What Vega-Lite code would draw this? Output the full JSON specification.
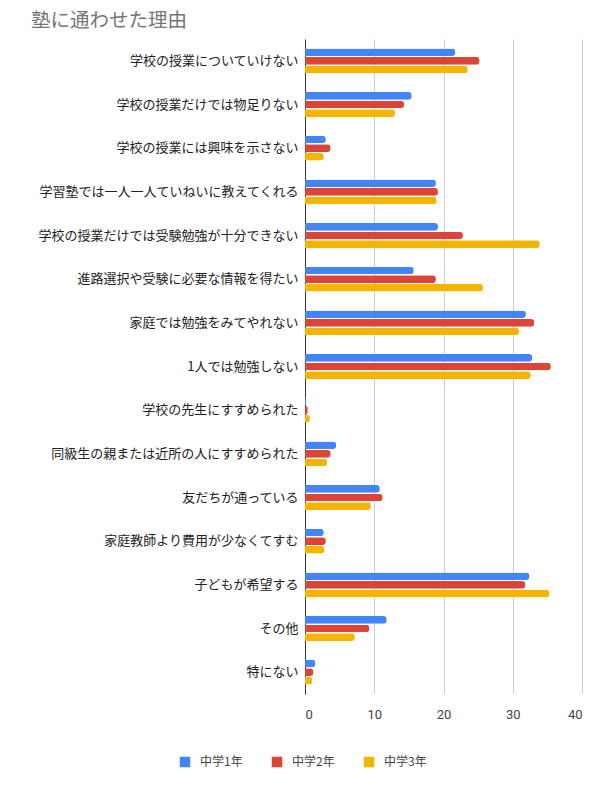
{
  "$schema": "https://vega.github.io/schema/vega-lite/v6.json",
  "autosize": {"type": "none"},
  "width": 277,
  "height": 655,
  "padding": {"left": 305, "top": 39, "right": 18, "bottom": 106},
  "background": "white",
  "config": {"font": "Noto Sans CJK JP", "view": {"stroke": null}},
  "title": {"text": "塾に通わせた理由", "anchor": "start", "frame": "group", "dx": -274, "offset": 8, "fontSize": 19.5, "fontWeight": "normal", "color": "#757575", "font": "Noto Sans CJK JP"},
  "data": {"values": [
    {"reason": "学校の授業についていけない", "grade": "中学1年", "value": 21.7},
    {"reason": "学校の授業についていけない", "grade": "中学2年", "value": 25.2},
    {"reason": "学校の授業についていけない", "grade": "中学3年", "value": 23.5},
    {"reason": "学校の授業だけでは物足りない", "grade": "中学1年", "value": 15.4},
    {"reason": "学校の授業だけでは物足りない", "grade": "中学2年", "value": 14.3},
    {"reason": "学校の授業だけでは物足りない", "grade": "中学3年", "value": 13.0},
    {"reason": "学校の授業には興味を示さない", "grade": "中学1年", "value": 3.0},
    {"reason": "学校の授業には興味を示さない", "grade": "中学2年", "value": 3.7},
    {"reason": "学校の授業には興味を示さない", "grade": "中学3年", "value": 2.7},
    {"reason": "学習塾では一人一人ていねいに教えてくれる", "grade": "中学1年", "value": 18.9},
    {"reason": "学習塾では一人一人ていねいに教えてくれる", "grade": "中学2年", "value": 19.2},
    {"reason": "学習塾では一人一人ていねいに教えてくれる", "grade": "中学3年", "value": 19.0},
    {"reason": "学校の授業だけでは受験勉強が十分できない", "grade": "中学1年", "value": 19.2},
    {"reason": "学校の授業だけでは受験勉強が十分できない", "grade": "中学2年", "value": 22.8},
    {"reason": "学校の授業だけでは受験勉強が十分できない", "grade": "中学3年", "value": 33.9},
    {"reason": "進路選択や受験に必要な情報を得たい", "grade": "中学1年", "value": 15.7},
    {"reason": "進路選択や受験に必要な情報を得たい", "grade": "中学2年", "value": 18.9},
    {"reason": "進路選択や受験に必要な情報を得たい", "grade": "中学3年", "value": 25.7},
    {"reason": "家庭では勉強をみてやれない", "grade": "中学1年", "value": 31.9},
    {"reason": "家庭では勉強をみてやれない", "grade": "中学2年", "value": 33.1},
    {"reason": "家庭では勉強をみてやれない", "grade": "中学3年", "value": 30.9},
    {"reason": "1人では勉強しない", "grade": "中学1年", "value": 32.8},
    {"reason": "1人では勉強しない", "grade": "中学2年", "value": 35.5},
    {"reason": "1人では勉強しない", "grade": "中学3年", "value": 32.6},
    {"reason": "学校の先生にすすめられた", "grade": "中学1年", "value": 0.2},
    {"reason": "学校の先生にすすめられた", "grade": "中学2年", "value": 0.4},
    {"reason": "学校の先生にすすめられた", "grade": "中学3年", "value": 0.7},
    {"reason": "同級生の親または近所の人にすすめられた", "grade": "中学1年", "value": 4.5},
    {"reason": "同級生の親または近所の人にすすめられた", "grade": "中学2年", "value": 3.7},
    {"reason": "同級生の親または近所の人にすすめられた", "grade": "中学3年", "value": 3.2},
    {"reason": "友だちが通っている", "grade": "中学1年", "value": 10.8},
    {"reason": "友だちが通っている", "grade": "中学2年", "value": 11.2},
    {"reason": "友だちが通っている", "grade": "中学3年", "value": 9.5},
    {"reason": "家庭教師より費用が少なくてすむ", "grade": "中学1年", "value": 2.7},
    {"reason": "家庭教師より費用が少なくてすむ", "grade": "中学2年", "value": 3.0},
    {"reason": "家庭教師より費用が少なくてすむ", "grade": "中学3年", "value": 2.8},
    {"reason": "子どもが希望する", "grade": "中学1年", "value": 32.4},
    {"reason": "子どもが希望する", "grade": "中学2年", "value": 31.8},
    {"reason": "子どもが希望する", "grade": "中学3年", "value": 35.3},
    {"reason": "その他", "grade": "中学1年", "value": 11.8},
    {"reason": "その他", "grade": "中学2年", "value": 9.3},
    {"reason": "その他", "grade": "中学3年", "value": 7.2},
    {"reason": "特にない", "grade": "中学1年", "value": 1.5},
    {"reason": "特にない", "grade": "中学2年", "value": 1.2},
    {"reason": "特にない", "grade": "中学3年", "value": 1.05}
  ]},
  "mark": {"type": "bar", "cornerRadiusEnd": 3},
  "encoding": {
    "y": {"field": "reason", "type": "nominal", "sort": null, "title": null,
      "scale": {"paddingInner": 0.43, "paddingOuter": 0.215},
      "axis": {"ticks": false, "domain": true, "domainColor": "#333333", "domainWidth": 1, "labelFontSize": 13, "labelColor": "#222222", "labelPadding": 7, "labelLimit": 300}},
    "x": {"field": "value", "type": "quantitative", "title": null,
      "scale": {"domain": [0, 40], "nice": false},
      "axis": {"values": [0, 10, 20, 30, 40], "domain": false, "ticks": false, "grid": true, "gridColor": "#cccccc", "labelFontSize": 13, "labelColor": "#444444", "labelPadding": 14, "labelFont": "Roboto"}},
    "yOffset": {"field": "grade", "type": "nominal", "scale": {"paddingInner": 0.12}},
    "color": {"field": "grade", "type": "nominal",
      "scale": {"domain": ["中学1年", "中学2年", "中学3年"], "range": ["#4285F4", "#DB4437", "#F4B400"]},
      "legend": {"title": null, "orient": "none", "direction": "horizontal", "legendX": -126, "legendY": 717, "symbolType": "square", "symbolSize": 110, "symbolStrokeWidth": 0, "labelFontSize": 12, "labelColor": "#444444", "columnPadding": 28, "labelOffset": 9}}
  }
}
